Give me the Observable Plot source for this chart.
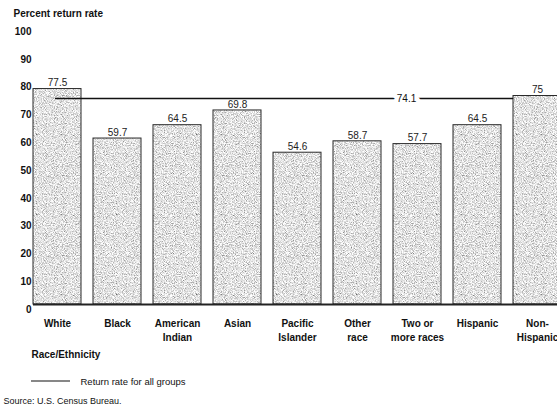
<!DOCTYPE html>
<html><head><meta charset="utf-8">
<script src="https://cdn.jsdelivr.net/npm/d3@7"></script>
<script src="https://cdn.jsdelivr.net/npm/@observablehq/plot@0.6"></script>
<style>body{margin:0;background:#fff;overflow:hidden;}</style>
</head><body><div id="chart"></div>
<script>
const categories = ["White","Black","American Indian","Asian","Pacific Islander","Other race","Two or more races","Hispanic","Non-Hispanic"];
const tickLabels = ["White","Black","American\nIndian","Asian","Pacific\nIslander","Other\nrace","Two or\nmore races","Hispanic","Non-\nHispanic"];
const values = [77.5, 59.7, 64.5, 69.8, 54.6, 58.7, 57.7, 64.5, 75];
const overallRate = 74.1;
const yTicks = [0,10,20,30,40,50,60,70,80,90,100];

const data = categories.map((c,i)=>({category:c, value:values[i]}));
const labelOf = new Map(categories.map((c,i)=>[c, tickLabels[i]]));

const chart = Plot.plot({
  width:557, height:408, marginTop:26, marginBottom:104, marginLeft:33, marginRight:0,
  style:{fontFamily:"'Liberation Sans', Arial, Helvetica, sans-serif", background:"#fff", color:"#111", overflow:"hidden"},
  x:{domain:categories, range:[27,567], paddingInner:0.2, paddingOuter:0.1, axis:null},
  y:{domain:[0,100], axis:null},
  marks:[
    Plot.barY(data,{x:"category", y:"value", fill:"url(#stip)", stroke:"#2a2a2a", strokeWidth:1}),
    Plot.ruleY([0],{stroke:"#222", strokeWidth:2.2}),
    Plot.ruleY([{y:overallRate, a:"White", b:"Hispanic"}],{y:"y", x1:"a", x2:"b", insetLeft:22, insetRight:-12, stroke:"#111", strokeWidth:1.3}),
    Plot.text([{x:"Two or more races", y:overallRate}],{x:"x", y:"y", text:()=>String(overallRate), dx:-11, fill:"#111", stroke:"white", strokeWidth:9, paintOrder:"stroke", fontSize:10}),
    Plot.text(data,{x:"category", y:"value", text:d=>String(d.value), dy:-6, lineAnchor:"middle", fontSize:10, fill:"#222"}),
    Plot.axisY(yTicks,{tickSize:0, tickPadding:2, dy:5, fontWeight:"bold", fontSize:10, label:null}),
    Plot.axisX({tickSize:0, tickPadding:13, fontWeight:"bold", fontSize:10, lineHeight:1.4, tickFormat:d=>labelOf.get(d), label:null}),
    Plot.text(["Percent return rate"],{text:d=>d, frameAnchor:"top-left", dx:-20, dy:-13, textAnchor:"start", lineAnchor:"middle", fontWeight:"bold", fontSize:10}),
    Plot.text(["Race/Ethnicity"],{text:d=>d, frameAnchor:"bottom-left", dx:-2, dy:50, textAnchor:"start", lineAnchor:"middle", fontWeight:"bold", fontSize:10}),
    Plot.text(["Return rate for all groups"],{text:d=>d, frameAnchor:"bottom-left", dx:47, dy:77, textAnchor:"start", lineAnchor:"middle", fontSize:9.5}),
    Plot.text(["Source: U.S. Census Bureau."],{text:d=>d, frameAnchor:"bottom-left", dx:-30, dy:97, textAnchor:"start", lineAnchor:"middle", fontSize:9})
  ]
});

const svg = d3.select(chart);
svg.insert("defs", ":first-child").html(
  '<filter id="grain" x="0" y="0" width="100%" height="100%" filterUnits="userSpaceOnUse">' +
  '<feTurbulence type="fractalNoise" baseFrequency="1.1" numOctaves="2" seed="7" result="t"/>' +
  '<feColorMatrix in="t" type="matrix" values="1.6 0 0 0 -0.04  1.6 0 0 0 -0.04  1.6 0 0 0 -0.04  0 0 0 0 1"/>' +
  '</filter>' +
  '<pattern id="stip" width="80" height="80" patternUnits="userSpaceOnUse">' +
  '<rect width="80" height="80" fill="#ccc" filter="url(#grain)"/></pattern>');
svg.append("line").attr("x1",31).attr("x2",70).attr("y1",381).attr("y2",381).attr("stroke","#111").attr("stroke-width",1.2);

document.getElementById("chart").appendChild(chart);
</script>
</body></html>
